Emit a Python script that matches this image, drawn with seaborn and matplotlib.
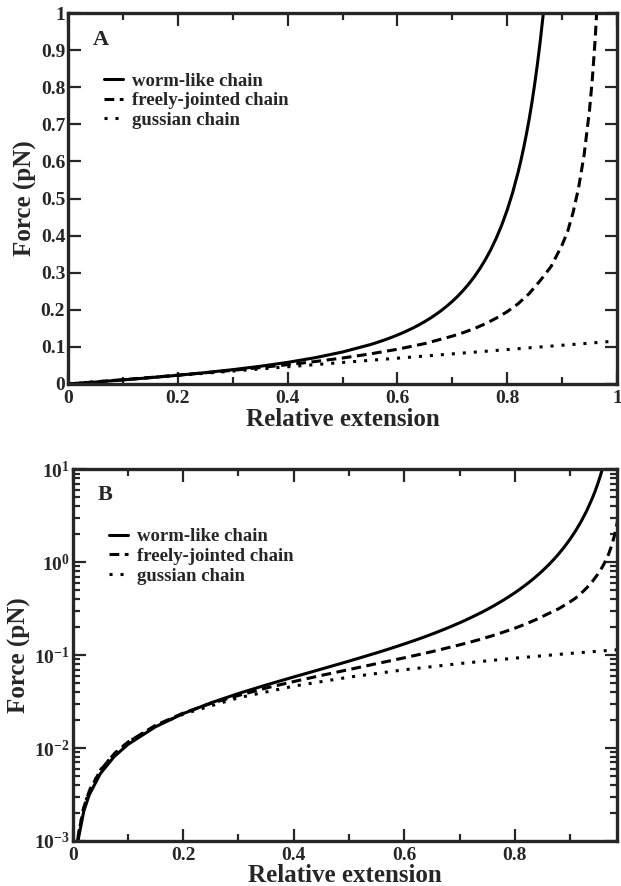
import numpy as np
import pandas as pd
import seaborn as sns
import matplotlib
matplotlib.use("Agg")
import matplotlib.pyplot as plt
from matplotlib.ticker import LogLocator, NullFormatter, FixedLocator

sns.set_style("ticks")
plt.rcParams['font.family'] = ['Liberation Serif', 'DejaVu Serif']
plt.rcParams['font.weight'] = 'bold'
plt.rcParams['mathtext.fontset'] = 'custom'
plt.rcParams['mathtext.rm'] = 'Liberation Serif:bold'
plt.rcParams['mathtext.bf'] = 'Liberation Serif:bold'
plt.rcParams['mathtext.default'] = 'rm'

# values (relative extension -> force in pN)
wlc_x = [0, 0.005, 0.01, 0.02, 0.03, 0.05, 0.075, 0.1, 0.15, 0.2, 0.25, 0.3, 0.35, 0.4,
         0.45, 0.5, 0.55, 0.56, 0.57, 0.58, 0.59, 0.6, 0.61, 0.62, 0.63, 0.64, 0.65, 0.66,
         0.67, 0.68, 0.69, 0.7, 0.71, 0.72, 0.73, 0.74, 0.75, 0.76, 0.77, 0.78, 0.79, 0.8,
         0.81, 0.82, 0.825, 0.83, 0.835, 0.84, 0.845, 0.85, 0.855, 0.86, 0.865, 0.87,
         0.875, 0.88, 0.89, 0.9, 0.91, 0.92, 0.93, 0.94, 0.945, 0.95, 0.955, 0.96, 0.965]
wlc_f = [0, 0.00052, 0.00104, 0.00209, 0.00315, 0.00531, 0.00809, 0.01095, 0.01698, 0.0235,
         0.03067, 0.03865, 0.04773, 0.05827, 0.07083, 0.08625, 0.1059, 0.1105, 0.1154,
         0.1206, 0.1261, 0.132, 0.1383, 0.145, 0.1522, 0.16, 0.1684, 0.1775, 0.1874,
         0.1981, 0.2099, 0.2227, 0.2369, 0.2525, 0.2698, 0.289, 0.3105, 0.3347, 0.362,
         0.393, 0.4284, 0.4692, 0.5165, 0.5717, 0.6029, 0.6369, 0.674, 0.7142, 0.7587,
         0.8081, 0.8622, 0.9222, 0.9889, 1.0635, 1.1471, 1.2414, 1.4698, 1.7699, 2.1752,
         2.7415, 3.5673, 4.8393, 5.7504, 6.9483, 8.5672, 10.83, 14.13]

fjc_x = [0, 0.005, 0.01, 0.02, 0.03, 0.05, 0.075, 0.1, 0.15, 0.2, 0.25, 0.3, 0.35, 0.4,
         0.45, 0.5, 0.55, 0.6, 0.65, 0.7, 0.72, 0.74, 0.76, 0.78, 0.8, 0.82, 0.84, 0.86,
         0.88, 0.9, 0.91, 0.92, 0.93, 0.94, 0.95, 0.955, 0.96, 0.965, 0.97, 0.975, 0.98,
         0.985, 0.99]
fjc_f = [0, 0.000575, 0.00115, 0.0023, 0.00345, 0.00576, 0.00866, 0.0116, 0.0176, 0.0238,
         0.0302, 0.0368, 0.0443, 0.052, 0.0605, 0.07, 0.081, 0.0936, 0.109, 0.129, 0.1385,
         0.1494, 0.1622, 0.1775, 0.195, 0.2165, 0.2438, 0.2786, 0.317, 0.375, 0.411, 0.4625,
         0.529, 0.617, 0.74, 0.822, 0.925, 1.057, 1.233, 1.5, 1.9, 2.6, 3.9]

gau_x = [0, 0.005, 0.01, 0.02, 0.03, 0.05, 0.075, 0.1, 0.15, 0.2, 0.3, 0.4, 0.5, 0.6,
         0.7, 0.8, 0.9, 0.977, 1.0]
gau_f = [0, 0.00058, 0.00116, 0.00232, 0.00348, 0.0058, 0.0087, 0.0116, 0.0174, 0.0232,
         0.0348, 0.0464, 0.058, 0.0696, 0.0812, 0.0928, 0.1044, 0.1133, 0.116]

names = ["worm-like chain", "freely-jointed chain", "gussian chain"]

df = pd.concat([
    pd.DataFrame({"x": wlc_x, "F": wlc_f, "chain": names[0]}),
    pd.DataFrame({"x": fjc_x, "F": fjc_f, "chain": names[1]}),
    pd.DataFrame({"x": gau_x, "F": gau_f, "chain": names[2]}),
], ignore_index=True)

dash_map = {names[0]: "", names[1]: (3.2, 1.8), names[2]: (1.0, 2.6)}

fig = plt.figure(figsize=(6.21, 8.86), dpi=100)
axA = fig.add_axes([0.1095, 0.5666, 0.8841, 0.4187])
axB = fig.add_axes([0.1171, 0.0508, 0.8765, 0.4195])


def style_axes(ax):
    for s in ax.spines.values():
        s.set_linewidth(2.4)
        s.set_visible(True)
    ax.tick_params(which='both', direction='in', top=True, right=True, width=1.6,
                   labelsize=14, pad=2)
    ax.tick_params(axis='x', which='both', pad=4)
    ax.tick_params(which='major', length=9)
    ax.tick_params(which='minor', length=5)


def add_legend(ax, x, y):
    ax.legend(loc='upper left', bbox_to_anchor=(x, y), frameon=False, fontsize=13.5,
              handlelength=1.0, handletextpad=0.5, labelspacing=0.14, borderpad=0,
              borderaxespad=0)


# panel A: linear force
sns.lineplot(data=df, x="x", y="F", style="chain", dashes=dash_map, color="black",
             lw=2.2, estimator=None, ax=axA)
axA.set_xlim(0, 1)
axA.set_ylim(0, 1)
xt = [0, 0.2, 0.4, 0.6, 0.8, 1.0]
yt = [0, 0.1, 0.2, 0.3, 0.4, 0.5, 0.6, 0.7, 0.8, 0.9, 1.0]
axA.xaxis.set_major_locator(FixedLocator(xt))
axA.xaxis.set_minor_locator(FixedLocator([0.1, 0.3, 0.5, 0.7, 0.9]))
axA.yaxis.set_major_locator(FixedLocator(yt))
axA.set_xticklabels(["0", "0.2", "0.4", "0.6", "0.8", "1"])
axA.set_yticklabels(["0", "0.1", "0.2", "0.3", "0.4", "0.5", "0.6", "0.7", "0.8", "0.9", "1"])
style_axes(axA)
axA.set_xlabel("Relative extension", fontsize=18, fontweight='bold', labelpad=1)
axA.set_ylabel("Force (pN)", fontsize=18, fontweight='bold', labelpad=3)
axA.text(0.045, 0.927, "A", transform=axA.transAxes, fontsize=16, fontweight='bold',
         va='center')
add_legend(axA, 0.066, 0.84)

# panel B: log force
sns.lineplot(data=df, x="x", y="F", style="chain", dashes=dash_map, color="black",
             lw=2.2, estimator=None, ax=axB)
axB.set_yscale('log')
axB.set_xlim(0, 0.985)
axB.set_ylim(1e-3, 10)
axB.xaxis.set_major_locator(FixedLocator([0, 0.2, 0.4, 0.6, 0.8]))
axB.xaxis.set_minor_locator(FixedLocator([0.1, 0.3, 0.5, 0.7, 0.9]))
axB.set_xticklabels(["0", "0.2", "0.4", "0.6", "0.8"])
axB.yaxis.set_major_locator(FixedLocator([1e-3, 1e-2, 1e-1, 1e0, 1e1]))
axB.set_yticklabels([r"$10^{-3}$", r"$10^{-2}$", r"$10^{-1}$", r"$10^{0}$", r"$10^{1}$"])
axB.yaxis.set_minor_locator(LogLocator(base=10, subs=np.arange(2, 10)))
axB.yaxis.set_minor_formatter(NullFormatter())
style_axes(axB)
axB.set_xlabel("Relative extension", fontsize=18, fontweight='bold', labelpad=0)
axB.set_ylabel("Force (pN)", fontsize=18, fontweight='bold', labelpad=2)
axB.text(0.045, 0.93, "B", transform=axB.transAxes, fontsize=16, fontweight='bold',
         va='center')
add_legend(axB, 0.067, 0.842)

fig.savefig("out.png", dpi=100)
